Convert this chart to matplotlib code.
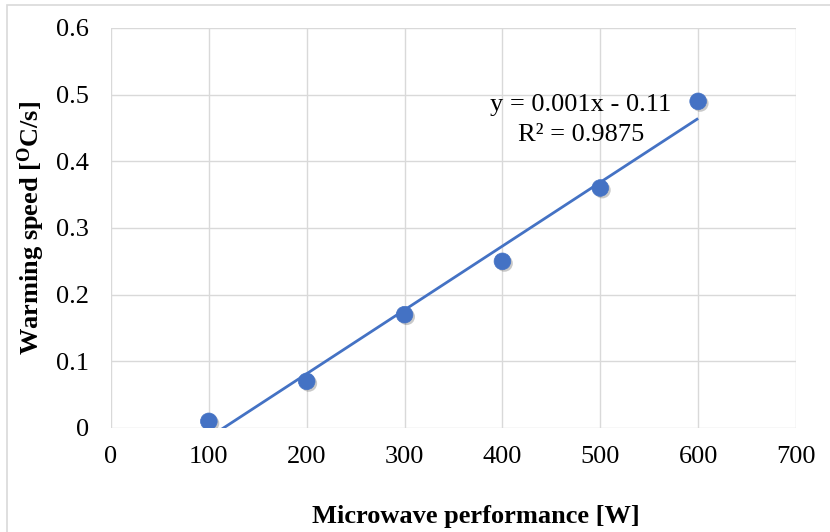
import numpy as np
import matplotlib
matplotlib.use("Agg")
import matplotlib.pyplot as plt
import matplotlib.patheffects as pe
from matplotlib.patches import Rectangle

plt.rcParams['font.family'] = ['Liberation Serif', 'DejaVu Serif']
plt.rcParams['mathtext.fontset'] = 'custom'
plt.rcParams['mathtext.rm'] = 'Liberation Serif'
plt.rcParams['mathtext.bf'] = 'Liberation Serif:bold'

power = [100, 200, 300, 400, 500, 600]
speed = [0.01, 0.07, 0.17, 0.25, 0.36, 0.49]
x_ticks = [0, 100, 200, 300, 400, 500, 600, 700]
y_ticks = [0, 0.1, 0.2, 0.3, 0.4, 0.5, 0.6]
y_tick_labels = ['0', '0.1', '0.2', '0.3', '0.4', '0.5', '0.6']
equation = "y = 0.001x - 0.11"
r2_text = "R² = 0.9875"

blue = '#4472C4'
grid = '#D9D9D9'
FS = 19

fig = plt.figure(figsize=(8.30, 5.32), dpi=100)
fig.patches.append(Rectangle((7/830, -0.05), 1.0, 1 - 5/532 + 0.05,
                             transform=fig.transFigure, fill=False,
                             edgecolor=grid, linewidth=1.2))
ax = fig.add_axes([111/830, 1 - 428/532, (796 - 111)/830, (428 - 28)/532])

ax.set_xlim(0, 700)
ax.set_ylim(0, 0.6)
ax.set_xticks(x_ticks)
ax.set_yticks(y_ticks)
ax.set_yticklabels(y_tick_labels)
ax.grid(True, color=grid, linewidth=1.0)
ax.set_axisbelow(True)
for s in ax.spines.values():
    s.set_visible(False)
ax.tick_params(length=0, labelsize=FS)
ax.tick_params(axis='x', pad=13)
ax.tick_params(axis='y', pad=16)

# trendline (least squares)
coef = np.polyfit(power, speed, 1)
xl = np.array([min(power), max(power)])
ax.plot(xl, np.polyval(coef, xl), color=blue, linewidth=2.0, zorder=3,
        solid_capstyle='butt')

ax.plot(power, speed, linestyle='none', marker='o', markersize=12,
        markerfacecolor=blue, markeredgecolor=blue, markeredgewidth=0.5, zorder=4,
        path_effects=[pe.SimplePatchShadow(offset=(1.5, -1.5), alpha=0.3,
                                           shadow_rgbFace=(0.3, 0.3, 0.3)),
                      pe.Normal()])

ax.text(480.3, 0.4845, equation, ha='center', va='center', fontsize=FS)
ax.text(480.3, 0.4395, r2_text, ha='center', va='center', fontsize=FS)

fig.text(476/830, 1 - 516/532, "Microwave performance [W]", fontsize=FS,
         fontweight='bold', ha='center', va='center')
fig.text(31/830, 1 - 228/532, r"Warming speed [$\mathbf{^{O}}$C/s]", fontsize=FS,
         fontweight='bold', ha='center', va='center', rotation=90)

fig.savefig("out.png", dpi=100)
